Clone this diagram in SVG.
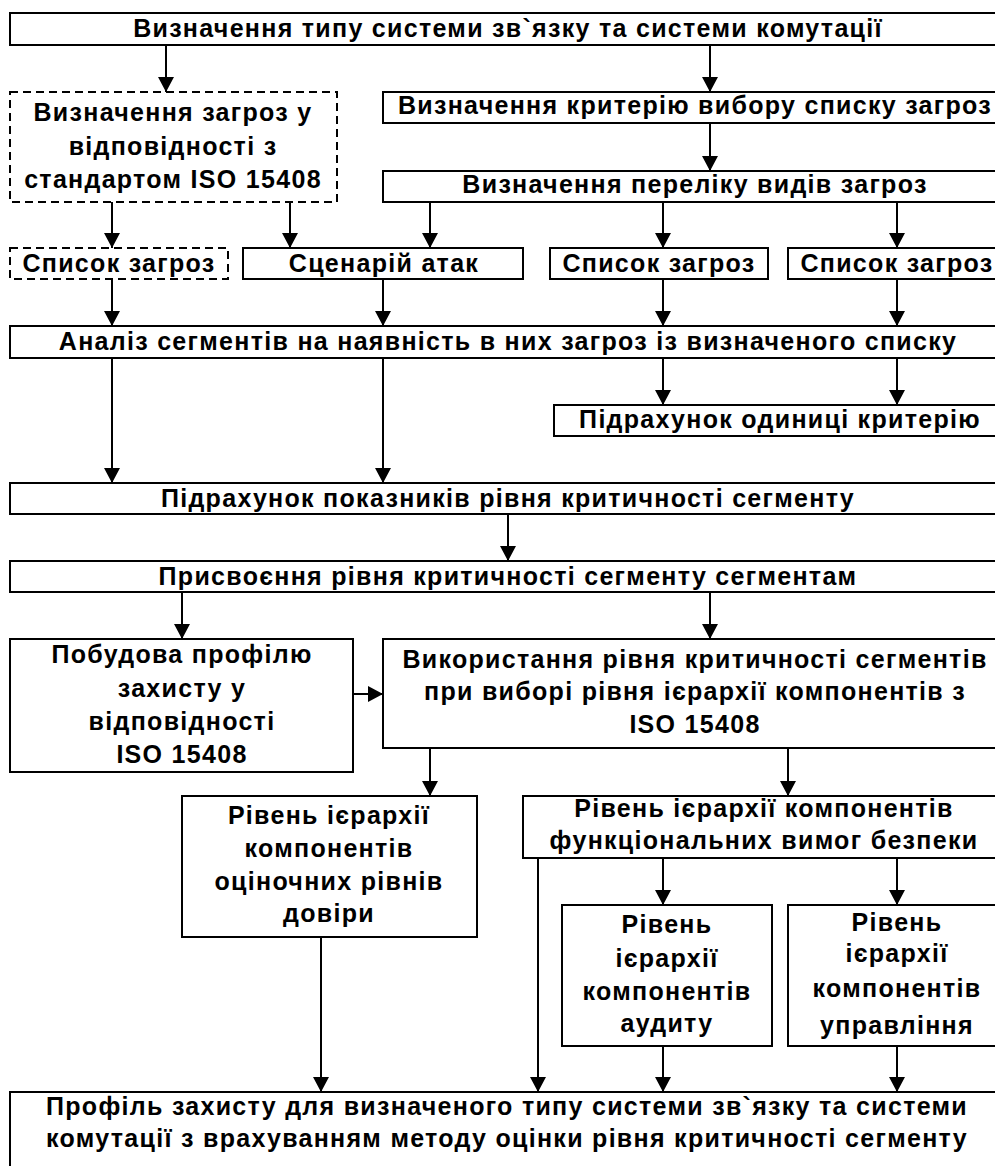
<svg xmlns="http://www.w3.org/2000/svg" width="995" height="1166" viewBox="0 0 995 1166">
<style>
.b{fill:#fff;stroke:#000;stroke-width:2}
.d{fill:#fff;stroke:#000;stroke-width:2;stroke-dasharray:8,5}
.t{font-family:"Liberation Sans",Arial,sans-serif;font-weight:bold;font-size:25px;letter-spacing:1.3px;text-anchor:middle;fill:#000}
.c{stroke:#000;stroke-width:2;fill:none;marker-end:url(#ah)}
</style>
<defs>
<marker id="ah" markerUnits="userSpaceOnUse" markerWidth="16" markerHeight="16" refX="15" refY="8" orient="auto">
<path d="M0,0 L15,8 L0,16 z" fill="#000"/>
</marker>
</defs>
<rect width="995" height="1166" fill="#fff"/>
<g id="connectors">
<line class="c" x1="166" y1="45" x2="166" y2="92"/>
<line class="c" x1="710" y1="45" x2="710" y2="92"/>
<line class="c" x1="710" y1="123" x2="710" y2="171"/>
<line class="c" x1="112" y1="202" x2="112" y2="248"/>
<line class="c" x1="290" y1="202" x2="290" y2="248"/>
<line class="c" x1="430" y1="202" x2="430" y2="248"/>
<line class="c" x1="663" y1="202" x2="663" y2="248"/>
<line class="c" x1="897" y1="202" x2="897" y2="248"/>
<line class="c" x1="112" y1="279" x2="112" y2="326"/>
<line class="c" x1="383" y1="279" x2="383" y2="326"/>
<line class="c" x1="663" y1="279" x2="663" y2="326"/>
<line class="c" x1="897" y1="279" x2="897" y2="326"/>
<line class="c" x1="663" y1="358" x2="663" y2="405"/>
<line class="c" x1="897" y1="358" x2="897" y2="405"/>
<line class="c" x1="112" y1="358" x2="112" y2="483"/>
<line class="c" x1="383" y1="358" x2="383" y2="483"/>
<line class="c" x1="508" y1="514" x2="508" y2="561"/>
<line class="c" x1="182" y1="592" x2="182" y2="639"/>
<line class="c" x1="710" y1="592" x2="710" y2="639"/>
<line class="c" x1="353" y1="694" x2="383" y2="694"/>
<line class="c" x1="430" y1="748" x2="430" y2="796"/>
<line class="c" x1="788" y1="748" x2="788" y2="796"/>
<line class="c" x1="663" y1="858" x2="663" y2="905"/>
<line class="c" x1="897" y1="858" x2="897" y2="905"/>
<line class="c" x1="538" y1="858" x2="538" y2="1092"/>
<line class="c" x1="321" y1="937" x2="321" y2="1092"/>
<line class="c" x1="663" y1="1046" x2="663" y2="1092"/>
<line class="c" x1="897" y1="1046" x2="897" y2="1092"/>
</g>
<g id="n1"><rect class="b" x="10" y="13" width="1000" height="32"/><text class="t" x="508" y="37">Визначення типу системи зв`язку та системи комутації</text></g>
<g id="n2"><rect class="d" x="10" y="92" width="327" height="110"/><text class="t" x="173" y="121">Визначення загроз у</text><text class="t" x="173" y="155">відповідності з</text><text class="t" x="173" y="188">стандартом ISO 15408</text></g>
<g id="n3"><rect class="b" x="383" y="92" width="627" height="31"/><text class="t" x="695" y="114">Визначення критерію вибору списку загроз</text></g>
<g id="n4"><rect class="b" x="383" y="171" width="627" height="31"/><text class="t" x="695" y="193">Визначення переліку видів загроз</text></g>
<g id="n5"><rect class="d" x="10" y="248" width="218" height="31"/><text class="t" x="119" y="272">Список загроз</text></g>
<g id="n6"><rect class="b" x="243" y="248" width="280" height="31"/><text class="t" x="384" y="272">Сценарій атак</text></g>
<g id="n7"><rect class="b" x="550" y="248" width="218" height="31"/><text class="t" x="659" y="272">Список загроз</text></g>
<g id="n8"><rect class="b" x="788" y="248" width="222" height="31"/><text class="t" x="897" y="272">Список загроз</text></g>
<g id="n9"><rect class="b" x="10" y="326" width="1000" height="32"/><text class="t" x="508" y="350">Аналіз сегментів на наявність в них загроз із визначеного списку</text></g>
<g id="n10"><rect class="b" x="554" y="405" width="456" height="31"/><text class="t" x="780" y="428">Підрахунок одиниці критерію</text></g>
<g id="n11"><rect class="b" x="10" y="483" width="1000" height="31"/><text class="t" x="508" y="507">Підрахунок показників рівня критичності сегменту</text></g>
<g id="n12"><rect class="b" x="10" y="561" width="1000" height="31"/><text class="t" x="508" y="585">Присвоєння рівня критичності сегменту сегментам</text></g>
<g id="n13"><rect class="b" x="10" y="639" width="343" height="133"/><text class="t" x="182" y="663">Побудова профілю</text><text class="t" x="182" y="697">захисту у</text><text class="t" x="182" y="730">відповідності</text><text class="t" x="182" y="763">ISO 15408</text></g>
<g id="n14"><rect class="b" x="383" y="639" width="627" height="109"/><text class="t" x="695" y="668">Використання рівня критичності сегментів</text><text class="t" x="695" y="700">при виборі рівня ієрархії компонентів з</text><text class="t" x="695" y="733">ISO 15408</text></g>
<g id="n15"><rect class="b" x="182" y="796" width="295" height="141"/><text class="t" x="329" y="824">Рівень ієрархії</text><text class="t" x="329" y="857">компонентів</text><text class="t" x="329" y="890">оціночних рівнів</text><text class="t" x="329" y="922">довіри</text></g>
<g id="n16"><rect class="b" x="523" y="796" width="487" height="62"/><text class="t" x="764" y="817">Рівень ієрархії компонентів</text><text class="t" x="764" y="849">функціональних вимог безпеки</text></g>
<g id="n17"><rect class="b" x="562" y="905" width="210" height="141"/><text class="t" x="667" y="933">Рівень</text><text class="t" x="667" y="967">ієрархії</text><text class="t" x="667" y="1000">компонентів</text><text class="t" x="667" y="1032">аудиту</text></g>
<g id="n18"><rect class="b" x="788" y="905" width="222" height="141"/><text class="t" x="897" y="931">Рівень</text><text class="t" x="897" y="962">ієрархії</text><text class="t" x="897" y="997">компонентів</text><text class="t" x="897" y="1034">управління</text></g>
<g id="n19"><rect class="b" x="10" y="1092" width="1000" height="100"/><text class="t" x="507" y="1115">Профіль захисту для визначеного типу системи зв`язку та системи</text><text class="t" x="507" y="1147">комутації з врахуванням методу оцінки рівня критичності сегменту</text></g>
</svg>
